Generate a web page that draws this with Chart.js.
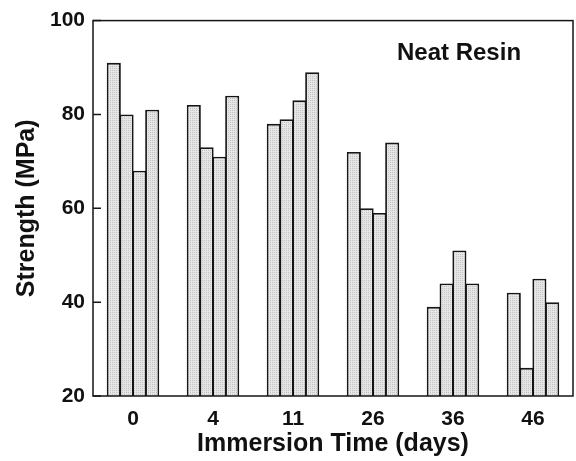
<!DOCTYPE html>
<html>
<head>
<meta charset="utf-8">
<script src="https://cdn.jsdelivr.net/npm/chart.js@4.4.0/dist/chart.umd.min.js"></script>
<style>
  html, body { margin: 0; padding: 0; background: #fff; }
  #wrap { width: 576px; height: 461px; }
</style>
</head>
<body>
<div id="wrap"><canvas id="chart" width="576" height="461"></canvas></div>
<script>
// immersion times (days) and the four specimen strengths at each time
const days = ['0', '4', '11', '26', '36', '46'];
const spec1 = [91, 82, 78, 72, 39, 42];
const spec2 = [80, 73, 79, 60, 44, 26];
const spec3 = [68, 71, 83, 59, 51, 45];
const spec4 = [81, 84, 89, 74, 44, 40];
const yTicks = [20, 40, 60, 80, 100];

// fine stippled light grey fill like the printed bars
function stipple() {
  const c = document.createElement('canvas');
  c.width = 2; c.height = 2;
  const g = c.getContext('2d');
  g.fillStyle = '#e6e6e6';
  g.fillRect(0, 0, 2, 2);
  g.fillStyle = '#c2c2c2';
  g.fillRect(0, 0, 1, 1);
  return g.createPattern(c, 'repeat');
}
const fill = stipple();

const font = 'Liberation Sans, Arial, Helvetica, sans-serif';

function bars(data) {
  return {
    data: data,
    backgroundColor: fill,
    borderColor: '#161616',
    borderWidth: 1.8,
    borderSkipped: false,
    barPercentage: 1.1,
    categoryPercentage: 0.64
  };
}

// frame, inward y ticks and the "Neat Resin" label
const frame = {
  id: 'frame',
  afterDraw(chart) {
    const { ctx, chartArea: a, scales } = chart;
    ctx.save();
    ctx.strokeStyle = '#161616';
    ctx.lineWidth = 1.5;
    ctx.strokeRect(a.left, a.top, a.right - a.left, a.bottom - a.top);
    ctx.beginPath();
    yTicks.forEach(v => {
      const y = scales.y.getPixelForValue(v);
      ctx.moveTo(a.left, y);
      ctx.lineTo(a.left + 8, y);
    });
    ctx.stroke();
    ctx.fillStyle = '#111';
    ctx.font = 'bold 24px ' + font;
    ctx.textAlign = 'left';
    ctx.textBaseline = 'middle';
    ctx.fillText('Neat Resin', a.left + 304, a.top + 33);
    ctx.restore();
  }
};

new Chart(document.getElementById('chart'), {
  type: 'bar',
  data: {
    labels: days,
    datasets: [bars(spec1), bars(spec2), bars(spec3), bars(spec4)]
  },
  options: {
    responsive: false,
    animation: false,
    layout: { padding: { top: 18, right: 3, left: 0, bottom: 0 } },
    plugins: { legend: { display: false }, tooltip: { enabled: false } },
    scales: {
      x: {
        grid: { display: false, drawTicks: false },
        border: { display: false },
        ticks: { color: '#111', font: { family: font, size: 21, weight: 'bold' }, padding: 11 },
        title: {
          display: true,
          text: 'Immersion Time (days)',
          color: '#111',
          font: { family: font, size: 25, weight: 'bold' },
          padding: { top: 0, bottom: 2 }
        },
        afterFit(s) { s.height = 65; }
      },
      y: {
        min: 20,
        max: 100,
        afterBuildTicks(s) { s.ticks = yTicks.map(v => ({ value: v })); },
        grid: { display: false, drawTicks: false },
        border: { display: false },
        ticks: { color: '#111', font: { family: font, size: 21, weight: 'bold' }, padding: 8 },
        title: {
          display: true,
          text: 'Strength (MPa)',
          color: '#111',
          font: { family: font, size: 25, weight: 'bold' },
          padding: { top: 12, bottom: 0 }
        },
        afterFit(s) { s.width = 93; }
      }
    }
  },
  plugins: [frame]
});
</script>
</body>
</html>
